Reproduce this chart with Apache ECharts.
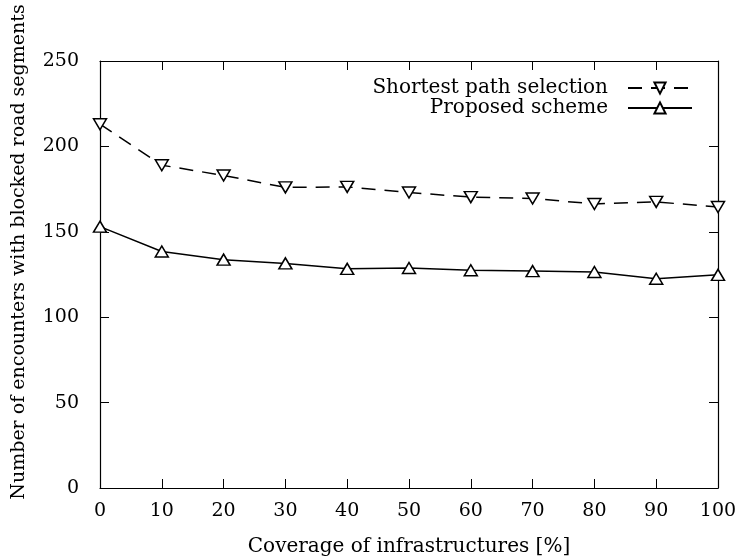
<!DOCTYPE html>
<html>
<head>
<meta charset="utf-8">
<script src="https://cdn.jsdelivr.net/npm/echarts@6/dist/echarts.min.js"></script>
<style>html,body{margin:0;padding:0;background:#fff}#c{width:739px;height:558px}</style>
</head>
<body>
<div id="c"></div>
<script>
var coverage = [0, 10, 20, 30, 40, 50, 60, 70, 80, 90, 100];
var shortestPath = [213, 189, 183, 176, 176.3, 173, 170.3, 169.5, 166.3, 167.5, 164.5];
var proposed = [153, 138.5, 133.7, 131.5, 128.3, 128.8, 127.5, 127, 126.5, 122.5, 124.8];
var yTicks = [0, 50, 100, 150, 200, 250];
var xTicks = [0, 10, 20, 30, 40, 50, 60, 70, 80, 90, 100];

var FONT = 'DejaVu Serif';
var FS = 20;
var TFS = 19;
var chart = echarts.init(document.getElementById('c'));
function pairs(ys){ return coverage.map(function(x,i){ return [x, ys[i]]; }); }
var axisLineStyle = {color:'#000', width:1.2};
chart.setOption({
  animation:false,
  backgroundColor:'#fff',
  textStyle:{fontFamily:FONT, color:'#000'},
  grid:{left:100, right:21, top:61, bottom:70, containLabel:false, outerBoundsMode:'none'},
  legend:{
    right:41, top:73, orient:'vertical', align:'right', itemGap:0,
    itemWidth:64, itemHeight:14,
    textStyle:{fontFamily:FONT, fontSize:FS, lineHeight:19, color:'#000', padding:[0,15,0,0]},
    data:['Shortest path selection','Proposed scheme']
  },
  xAxis:[{
    type:'value', min:0, max:100, interval:10,
    name:'Coverage of infrastructures [%]', nameLocation:'middle', nameGap:49,
    nameTextStyle:{fontFamily:FONT, fontSize:FS, color:'#000'},
    axisLine:{onZero:false, lineStyle:axisLineStyle},
    axisTick:{inside:true, length:9, lineStyle:{color:'#000'}},
    axisLabel:{fontFamily:FONT, fontSize:TFS, color:'#000', margin:14},
    splitLine:{show:false}
  },{
    type:'value', min:0, max:100, interval:10, position:'top',
    axisLine:{show:true, onZero:false, lineStyle:axisLineStyle},
    axisTick:{inside:true, length:9, lineStyle:{color:'#000'}},
    axisLabel:{show:false}, splitLine:{show:false}
  }],
  yAxis:[{
    type:'value', min:0, max:250, interval:50, position:'left',
    name:'Number of encounters with blocked road segments', nameLocation:'middle', nameGap:71,
    nameTextStyle:{fontFamily:FONT, fontSize:19, color:'#000', padding:[0,0,0,45]},
    axisLine:{show:true, onZero:false, lineStyle:axisLineStyle},
    axisTick:{show:true, inside:true, length:9, lineStyle:{color:'#000'}},
    axisLabel:{fontFamily:FONT, fontSize:TFS, color:'#000', margin:21},
    splitLine:{show:false}
  },{
    type:'value', min:0, max:250, interval:50, position:'right',
    axisLine:{show:true, onZero:false, lineStyle:axisLineStyle},
    axisTick:{show:true, inside:true, length:9, lineStyle:{color:'#000'}},
    axisLabel:{show:false}, splitLine:{show:false}
  }],
  series:[{
    name:'Shortest path selection', type:'line', data:pairs(shortestPath),
    symbol:'triangle', symbolRotate:180, symbolSize:[13,11],
    itemStyle:{color:'#fff', borderColor:'#000', borderWidth:1.5},
    lineStyle:{color:'#000', width:1.5, type:[14,9]}
  },{
    name:'Proposed scheme', type:'line', data:pairs(proposed),
    symbol:'triangle', symbolSize:[13,11],
    itemStyle:{color:'#fff', borderColor:'#000', borderWidth:1.5},
    lineStyle:{color:'#000', width:1.5}
  }]
});
</script>
</body>
</html>
